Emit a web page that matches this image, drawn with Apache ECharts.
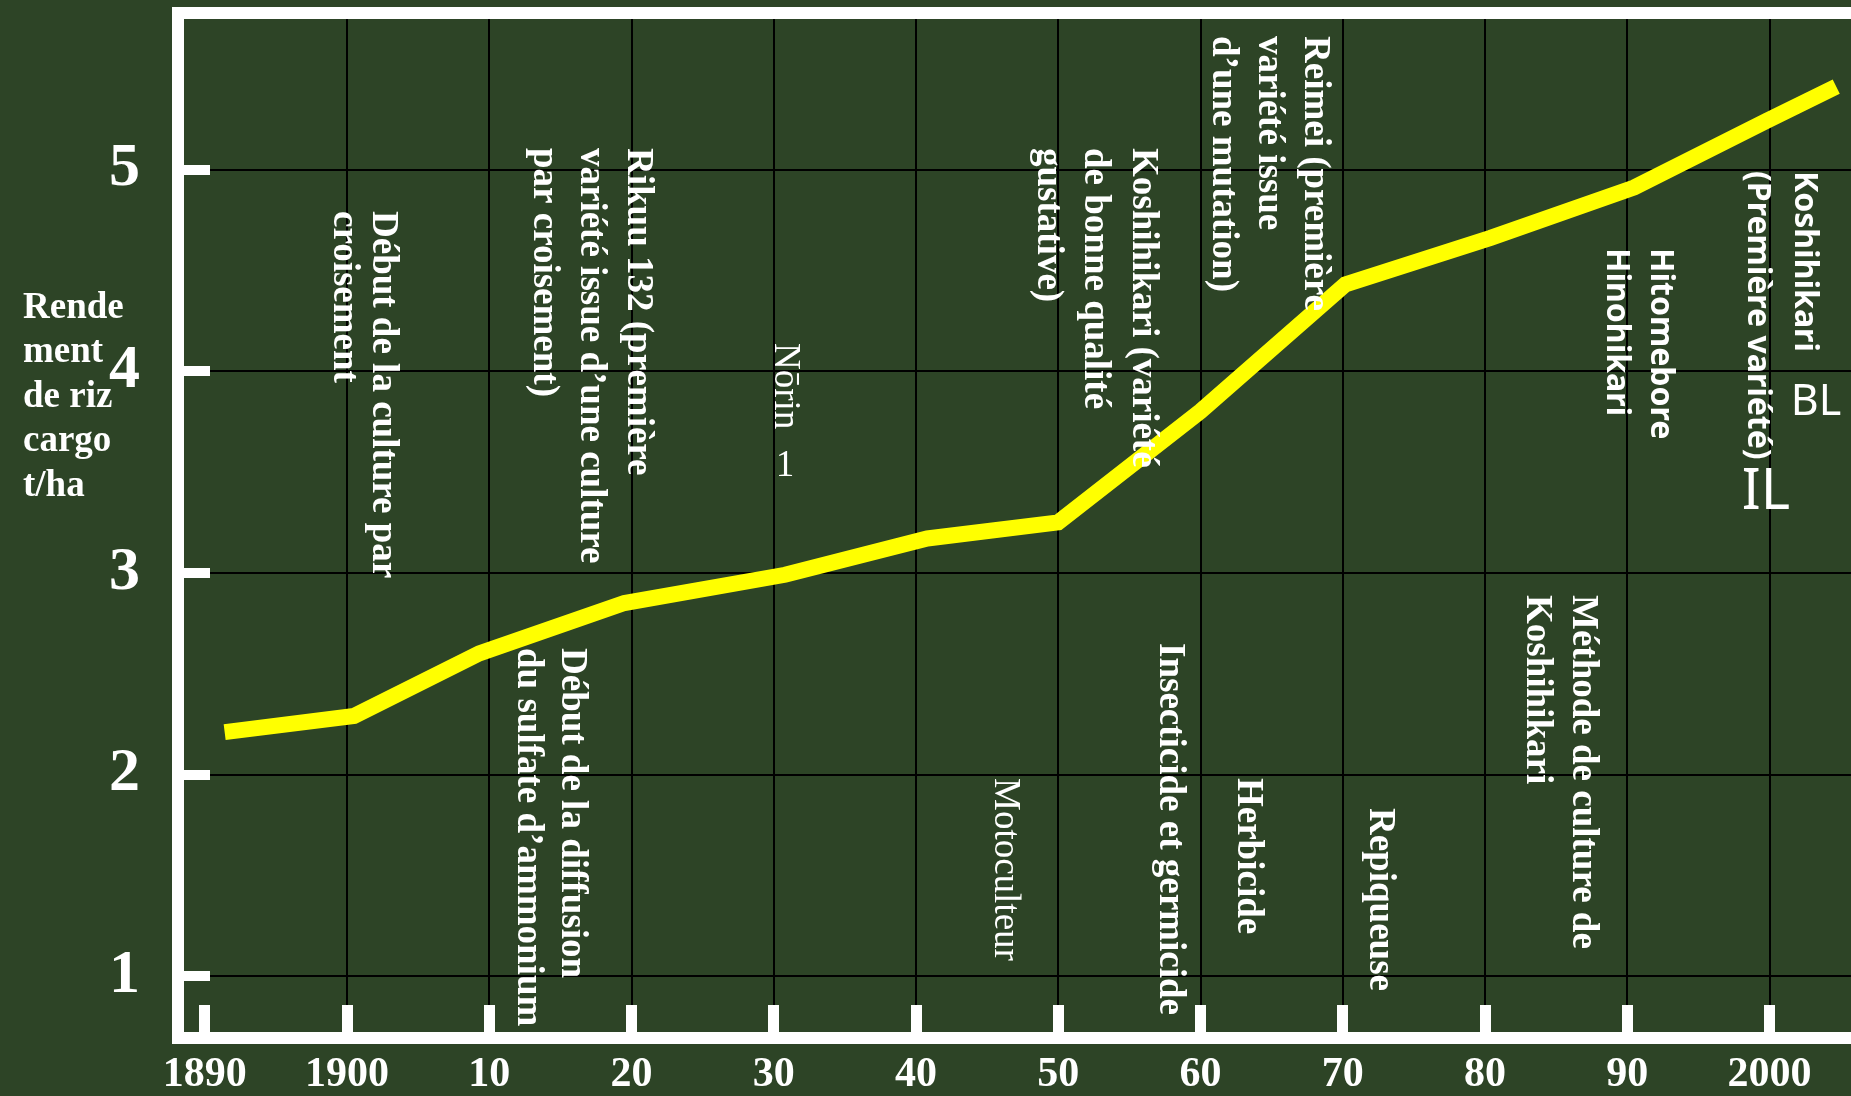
<!DOCTYPE html>
<html lang="fr">
<head>
<meta charset="utf-8">
<title>Rendement de riz cargo</title>
<script src="https://cdn.jsdelivr.net/npm/echarts@6/dist/echarts.min.js"></script>
<style>
  html, body {
    margin: 0;
    padding: 0;
    background: #2d4426;
  }

  #chart {
    width: 1851px;
    height: 1096px;
  }
</style>
</head>
<body>
<div id="chart"></div>
<script>
// rendement de riz cargo (t/ha)
const years = [1891.4, 1900.5, 1909.3, 1919.5, 1930.8, 1940.8, 1950, 1960, 1970.2, 1980.4, 1990.5, 1999.8, 2004.7]
const yields = [2.21, 2.29, 2.60, 2.85, 2.99, 3.17, 3.25, 3.80, 4.43, 4.66, 4.91, 5.24, 5.41]

const xTickYears = [1890, 1900, 1910, 1920, 1930, 1940, 1950, 1960, 1970, 1980, 1990, 2000]
const xTickLabels = ['1890', '1900', '10', '20', '30', '40', '50', '60', '70', '80', '90', '2000']
// pas de trait vertical sur 1890
const gridYears = [1900, 1910, 1920, 1930, 1940, 1950, 1960, 1970, 1980, 1990, 2000]
const yTickValues = [1, 2, 3, 4, 5]
const yTickLabels = ['1', '2', '3', '4', '5']

const yTitle = 'Rende\nment\nde riz\ncargo\nt/ha'

const serif = '"Liberation Serif", "Times New Roman", serif'
const sans = '"Noto Sans", "Open Sans", sans-serif'

// texte vertical (lu de haut en bas)
const vtext = (x, y, text, lineHeight, opts = {}) => ({
  type: 'text',
  x,
  y,
  rotation: -Math.PI / 2,
  z: 100,
  style: {
    text,
    fill: '#fff',
    fontSize: opts.size || 37,
    fontFamily: opts.family || serif,
    fontWeight: opts.weight || 'bold',
    lineHeight: lineHeight || 44,
    textAlign: 'left',
    textVerticalAlign: 'middle'
  }
})

const htext = (x, y, text, opts = {}) => ({
  type: 'text',
  x,
  y,
  z: 100,
  style: {
    text,
    fill: '#fff',
    fontSize: opts.size || 37,
    fontFamily: opts.family || serif,
    fontWeight: opts.weight || 'normal',
    lineHeight: opts.lineHeight,
    textAlign: opts.align || 'center',
    textVerticalAlign: 'middle'
  }
})

const chart = echarts.init(document.getElementById('chart'))

const option = {
  backgroundColor: '#2d4426',
  animation: false,
  grid: {
    left: 178,
    right: -10,
    top: 13,
    bottom: 58,
    z: 4,
    show: true,
    borderColor: '#fff',
    borderWidth: 12,
    backgroundColor: 'transparent',
    containLabel: false,
    outerBoundsMode: 'none'
  },
  xAxis: {
    type: 'value',
    z: 3,
    min: 1888.12,
    max: 2006.44,
    minInterval: 10,
    maxInterval: 10,
    axisLine: {
      onZero: false,
      lineStyle: { color: '#fff', width: 11 }
    },
    axisTick: {
      inside: true,
      length: 33,
      lineStyle: { color: '#fff', width: 11 }
    },
    axisLabel: {
      color: '#fff',
      fontFamily: serif,
      fontWeight: 'bold',
      fontSize: 42,
      margin: 16,
      showMinLabel: false,
      showMaxLabel: false,
      formatter: v => {
        const i = xTickYears.indexOf(v)
        return i >= 0 ? xTickLabels[i] : ''
      }
    },
    splitLine: { show: false }
  },
  yAxis: {
    type: 'value',
    z: 3,
    min: 0.6936,
    max: 5.775,
    minInterval: 1,
    maxInterval: 1,
    axisLine: {
      show: true,
      onZero: false,
      lineStyle: { color: '#fff', width: 12 }
    },
    axisTick: {
      show: true,
      inside: true,
      length: 32,
      lineStyle: { color: '#fff', width: 10 }
    },
    axisLabel: {
      color: '#fff',
      fontFamily: serif,
      fontWeight: 'bold',
      fontSize: 62,
      margin: 38,
      showMinLabel: false,
      showMaxLabel: false,
      formatter: v => {
        const i = yTickValues.indexOf(v)
        return i >= 0 ? yTickLabels[i] : ''
      }
    },
    splitLine: {
      show: true,
      lineStyle: { color: '#000', width: 2 }
    }
  },
  series: [{
    name: 'Rendement',
    type: 'line',
    data: years.map((y, i) => [y, yields[i]]),
    symbol: 'none',
    z: 10,
    lineStyle: {
      color: '#ffff00',
      width: 16,
      cap: 'butt',
      join: 'miter'
    },
    markLine: {
      z: 1,
      silent: true,
      symbol: 'none',
      animation: false,
      label: { show: false },
      emphasis: { disabled: true },
      lineStyle: { color: '#000', width: 2, type: 'solid' },
      data: gridYears.map(y => ({ xAxis: y }))
    }
  }],
  graphic: [
    htext(23, 397, yTitle, { align: 'left', weight: 'bold', lineHeight: 44.5 }),

    vtext(363.5, 211, 'Début de la culture par\ncroisement', 39),
    vtext(591, 148, 'Rikuu 132 (première\nvariété issue d’une culture\npar croisement)', 47),
    vtext(785, 343, 'Nōrin', 40, { weight: 'normal' }),
    htext(785, 466, '1'),
    vtext(1095, 148, 'Koshihikari (variété\nde bonne qualité\ngustative)', 47.5),
    vtext(1269, 36, 'Reimei (première\nvariété issue\nd’une mutation)', 46),
    vtext(1638, 248, 'Hitomebore\nHinohikari', 44, { family: sans, weight: 'bold', size: 32 }),
    vtext(1781, 171, 'Koshihikari\n(Première variété)', 47, { family: sans, weight: 'bold', size: 32 }),
    htext(1816, 403, 'BL', { family: sans, size: 43 }),
    htext(1766, 493, 'IL', { family: sans, size: 56 }),

    vtext(550, 648, 'Début de la diffusion\ndu sulfate d’ammonium', 44),
    vtext(1005, 778, 'Motoculteur', 40, { weight: 'normal' }),
    vtext(1170, 643, 'Insecticide et germicide', 40),
    vtext(1248, 778, 'Herbicide', 40),
    vtext(1380, 808, 'Repiqueuse', 40),
    vtext(1560, 595, 'Méthode de culture de\nKoshihikari', 46)
  ]
}

chart.setOption(option)

window.addEventListener('resize', () => {
  chart.resize()
})
</script>
</body>
</html>
